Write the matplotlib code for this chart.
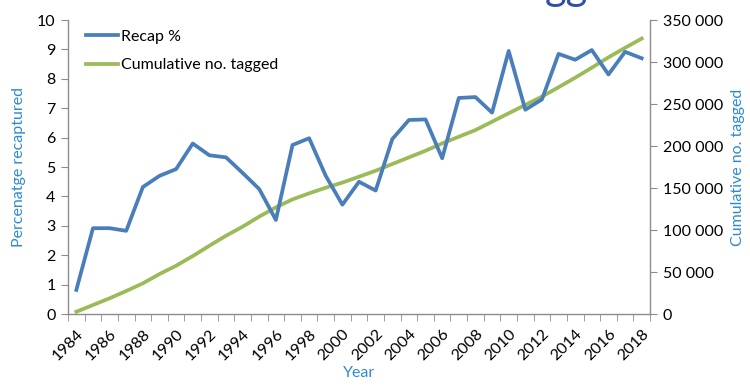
import matplotlib.pyplot as plt
import numpy as np
from matplotlib.ticker import FuncFormatter

plt.rcParams["font.family"] = ["Lato", "DejaVu Sans"]

YEARS = list(range(1984, 2019))
RECAP_PCT = [0.82, 2.92, 2.92, 2.83, 4.32, 4.70, 4.93, 5.80, 5.40, 5.33,
             4.80, 4.25, 3.20, 5.75, 5.98, 4.70, 3.72, 4.50, 4.20, 5.95,
             6.60, 6.62, 5.30, 7.35, 7.38, 6.85, 8.95, 6.95, 7.30, 8.85,
             8.65, 8.98, 8.15, 8.92, 8.70]
CUM_TAGGED = [2700, 10700, 18700, 27400, 36500, 47600, 57500, 69000, 81300, 93200,
              104000, 116000, 127000, 136500, 143700, 150400, 156500, 163500, 170600, 178600,
              186500, 194400, 203200, 211100, 219000, 229000, 239000, 249000, 258900, 270000,
              281400, 293300, 305600, 317000, 328000]

BLUE = "#4A7EBB"
GREEN = "#9BBB59"
LABEL = "#2E8BD0"
SPINE = "#8C8C8C"


def main() -> None:
    fig = plt.figure(figsize=(7.5, 3.86), dpi=100)
    ax = fig.add_axes([0.0907, 0.1865, 0.776, 0.7615])
    ax2 = ax.twinx()

    x = np.arange(len(YEARS))
    l1, = ax.plot(x, RECAP_PCT, color=BLUE, lw=2.7, label="Recap %", zorder=3)
    l2, = ax2.plot(x, CUM_TAGGED, color=GREEN, lw=2.7, label="Cumulative no. tagged", zorder=2)
    ax.set_zorder(ax2.get_zorder() + 1)
    ax.patch.set_visible(False)

    ax.set_xlim(-0.5, len(YEARS) - 0.5)
    ax.set_ylim(0, 10)
    ax2.set_ylim(0, 350000)
    ax.set_yticks(range(0, 11))
    ax2.set_yticks(range(0, 350001, 50000))
    ax2.yaxis.set_major_formatter(FuncFormatter(lambda v, p: f"{int(v):,}".replace(",", " ")))

    ax.set_xticks(x[::2], [str(y) for y in YEARS[::2]], rotation=45, ha="right",
                  rotation_mode="anchor")
    ax.set_xticks(np.arange(-0.5, len(YEARS)), minor=True)
    ax.tick_params(axis="x", which="major", length=0, pad=9, labelsize=11.5)
    ax.tick_params(axis="x", which="minor", length=5, color=SPINE, direction="out")
    ax.tick_params(axis="y", length=5, color=SPINE, labelsize=11.5, pad=4)
    ax2.tick_params(axis="y", length=5, color=SPINE, labelsize=11.5, pad=4)

    for a in (ax, ax2):
        a.spines["top"].set_visible(False)
        for s in ("left", "right", "bottom"):
            a.spines[s].set_color(SPINE)
            a.spines[s].set_linewidth(1.0)
    ax.spines["right"].set_visible(False)
    ax2.spines["left"].set_visible(False)
    ax2.spines["bottom"].set_visible(False)

    ax.set_xlabel("Year", color=LABEL, fontsize=11.5, labelpad=2)
    ax.set_ylabel("Percenatge recaptured", color=LABEL, fontsize=11.5, labelpad=8)
    ax2.set_ylabel("Cumulative no. tagged", color=LABEL, fontsize=11.5, labelpad=6)

    ax.legend([l1, l2], ["Recap %", "Cumulative no. tagged"], loc="upper left",
              frameon=False, fontsize=11.5, handlelength=2.0, handletextpad=0.2,
              labelspacing=0.9, borderaxespad=0.2, bbox_to_anchor=(0.015, 1.0))

    # chart title, clipped by the top edge in the source image
    fig.text(0.727, 1.0, "gg", color="#2F52A8", fontsize=30, ha="left", va="baseline")

    fig.savefig("out.png", dpi=100)
    plt.close(fig)


if __name__ == "__main__":
    main()
